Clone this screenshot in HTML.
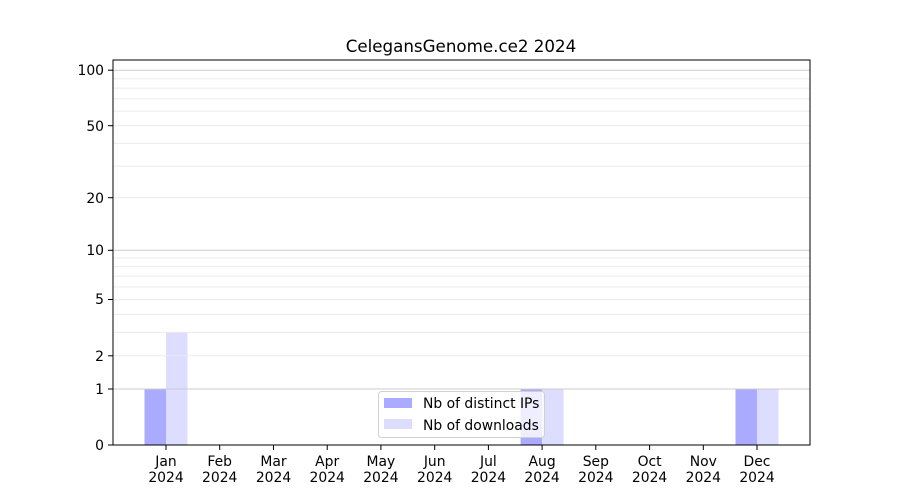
<!DOCTYPE html>
<html><head><style>body{margin:0;background:#fff}svg{display:block}</style></head><body>
<svg width="900" height="500" xmlns="http://www.w3.org/2000/svg" font-family="DejaVu Sans, Liberation Sans, sans-serif" font-size="13.9">
<rect width="900" height="500" fill="#fff"/>
<text x="461" y="52" text-anchor="middle" font-size="16.7">CelegansGenome.ce2 2024</text>
<g>
<rect x="144.5" y="389" width="21.5" height="56" fill="#aaaaff"/>
<rect x="166" y="332.4" width="21.5" height="112.6" fill="#ddddff"/>
<rect x="520.6" y="389" width="21.5" height="56" fill="#aaaaff"/>
<rect x="542.1" y="389" width="21.5" height="56" fill="#ddddff"/>
<rect x="735.5" y="389" width="21.5" height="56" fill="#aaaaff"/>
<rect x="757" y="389" width="21.5" height="56" fill="#ddddff"/>
</g>
<g stroke="#ebebeb" stroke-width="1">
<line x1="113" x2="810" y1="355.8" y2="355.8"/><line x1="113" x2="810" y1="332.4" y2="332.4"/>
<line x1="113" x2="810" y1="314.3" y2="314.3"/><line x1="113" x2="810" y1="299.5" y2="299.5"/>
<line x1="113" x2="810" y1="287" y2="287"/><line x1="113" x2="810" y1="276.1" y2="276.1"/>
<line x1="113" x2="810" y1="266.6" y2="266.6"/><line x1="113" x2="810" y1="258" y2="258"/>
<line x1="113" x2="810" y1="197.7" y2="197.7"/><line x1="113" x2="810" y1="166.1" y2="166.1"/>
<line x1="113" x2="810" y1="143.4" y2="143.4"/><line x1="113" x2="810" y1="125.7" y2="125.7"/>
<line x1="113" x2="810" y1="111.1" y2="111.1"/><line x1="113" x2="810" y1="98.8" y2="98.8"/>
<line x1="113" x2="810" y1="88.1" y2="88.1"/><line x1="113" x2="810" y1="78.7" y2="78.7"/>
</g>
<g stroke="#cccccc" stroke-width="1">
<line x1="113" x2="810" y1="389" y2="389"/><line x1="113" x2="810" y1="250.3" y2="250.3"/><line x1="113" x2="810" y1="70.2" y2="70.2"/>
</g>
<rect x="113" y="60" width="697" height="385" fill="none" stroke="#000" stroke-width="1"/>
<g stroke="#000"><line x1="108" x2="113" y1="445" y2="445"/><line x1="108" x2="113" y1="389" y2="389"/><line x1="108" x2="113" y1="355.8" y2="355.8"/><line x1="108" x2="113" y1="299.5" y2="299.5"/><line x1="108" x2="113" y1="250.3" y2="250.3"/><line x1="108" x2="113" y1="197.7" y2="197.7"/><line x1="108" x2="113" y1="125.7" y2="125.7"/><line x1="108" x2="113" y1="70.2" y2="70.2"/></g>
<g text-anchor="end">
<text x="104" y="450">0</text><text x="104" y="394">1</text><text x="104" y="361">2</text><text x="104" y="304">5</text><text x="104" y="255">10</text><text x="104" y="203">20</text><text x="104" y="131">50</text><text x="104" y="75">100</text>
</g>
<g stroke="#000">
<line x1="166" x2="166" y1="445" y2="450"/><line x1="219.7" x2="219.7" y1="445" y2="450"/><line x1="273.5" x2="273.5" y1="445" y2="450"/><line x1="327.2" x2="327.2" y1="445" y2="450"/><line x1="380.9" x2="380.9" y1="445" y2="450"/><line x1="434.7" x2="434.7" y1="445" y2="450"/><line x1="488.4" x2="488.4" y1="445" y2="450"/><line x1="542.1" x2="542.1" y1="445" y2="450"/><line x1="595.8" x2="595.8" y1="445" y2="450"/><line x1="649.6" x2="649.6" y1="445" y2="450"/><line x1="703.3" x2="703.3" y1="445" y2="450"/><line x1="757" x2="757" y1="445" y2="450"/>
</g>
<g text-anchor="middle">
<text x="166" y="466">Jan</text><text x="166" y="482">2024</text>
<text x="219.7" y="466">Feb</text><text x="219.7" y="482">2024</text>
<text x="273.5" y="466">Mar</text><text x="273.5" y="482">2024</text>
<text x="327.2" y="466">Apr</text><text x="327.2" y="482">2024</text>
<text x="380.9" y="466">May</text><text x="380.9" y="482">2024</text>
<text x="434.7" y="466">Jun</text><text x="434.7" y="482">2024</text>
<text x="488.4" y="466">Jul</text><text x="488.4" y="482">2024</text>
<text x="542.1" y="466">Aug</text><text x="542.1" y="482">2024</text>
<text x="595.8" y="466">Sep</text><text x="595.8" y="482">2024</text>
<text x="649.6" y="466">Oct</text><text x="649.6" y="482">2024</text>
<text x="703.3" y="466">Nov</text><text x="703.3" y="482">2024</text>
<text x="757" y="466">Dec</text><text x="757" y="482">2024</text>
</g>
<rect x="378.5" y="391.5" width="166" height="46" rx="3" fill="#fff" fill-opacity="0.8" stroke="#d0d0d0"/>
<rect x="384" y="398" width="28" height="10" fill="#aaaaff"/>
<rect x="384" y="419" width="28" height="10" fill="#ddddff"/>
<text x="423" y="408">Nb of distinct IPs</text>
<text x="423" y="430">Nb of downloads</text>
</svg>
</body></html>
